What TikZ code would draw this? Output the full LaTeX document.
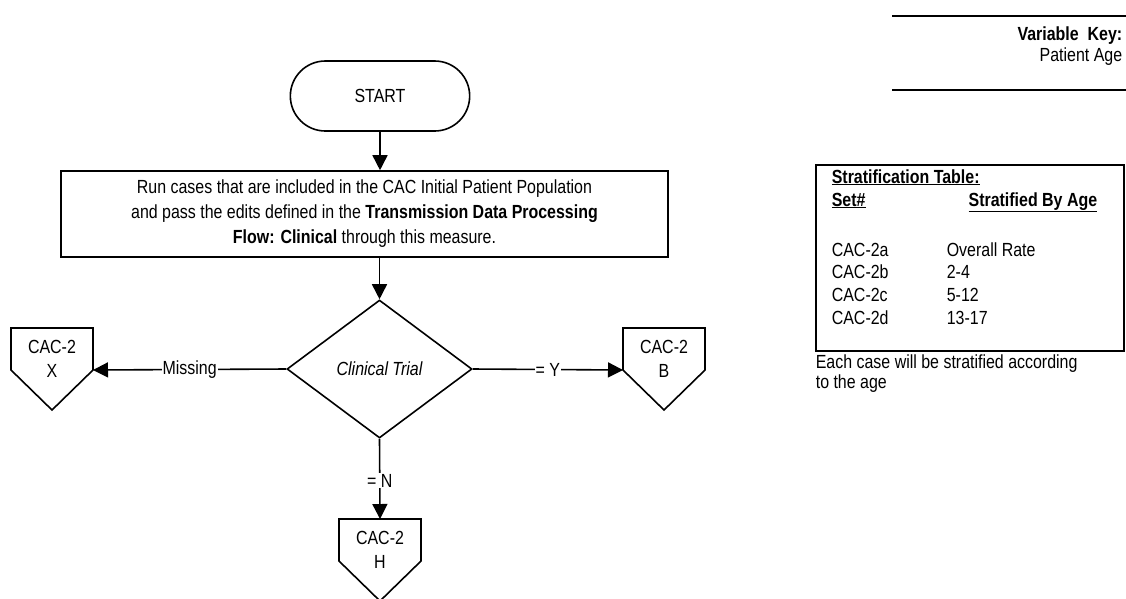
\documentclass[tikz,border=0pt]{standalone}
\usepackage{fontspec}
\setmainfont{Liberation Sans}[FakeStretch=0.84]
\usetikzlibrary{arrows.meta,shapes.misc,shapes.geometric}
\begin{document}
\begin{tikzpicture}[x=1pt,y=-1pt,line width=1.6pt,
  every node/.style={font=\fontsize{19}{24}\selectfont},
  arr/.style={-{Triangle[length=15pt,width=15pt]}},
  shp/.style={draw,line join=miter},
  lbl/.style={fill=white,inner sep=1pt},
  cell/.style={anchor=base west,inner sep=0pt}]
\useasboundingbox (0,0) rectangle (1126,598);
% START
\node[draw,rounded rectangle,minimum width=186pt,minimum height=70pt] (start) at (380,96) {START};
% process box
\node[draw,rectangle,minimum width=607pt,minimum height=86pt,align=center,inner sep=0pt,font=\fontsize{19}{25}\selectfont] (box) at (364.5,214)
 {Run cases that are included in the CAC Initial Patient Population\\
  and pass the edits defined in the \textbf{Transmission Data Processing}\\
  \textbf{Flow: Clinical} through this measure.};
% diamond
\node[draw,diamond,minimum width=185pt,minimum height=138pt,inner sep=0pt] (d) at (379.5,369) {\itshape Clinical Trial};
% pentagons
\draw[shp] (11,328) -- (93,328) -- (93,370) -- (52,410) -- (11,370) -- cycle;
\node[align=center,inner sep=0pt] (px) at (52,359) {CAC-2\\X};
\coordinate (pxr) at (93,370);
\draw[shp] (623,328) -- (705,328) -- (705,370) -- (664,410) -- (623,370) -- cycle;
\node[align=center,inner sep=0pt] (pb) at (664,359) {CAC-2\\B};
\coordinate (pbl) at (623,370);
\draw[shp] (339,519) -- (421,519) -- (421,561) -- (380,601) -- (339,561) -- cycle;
\node[align=center,inner sep=0pt] (ph) at (380,550) {CAC-2\\H};
\coordinate (pht) at (380,519);
% connectors
\draw[arr] (start.south) -- (start.south |- box.north);
\draw[arr] (box.south -| d.north) -- (d.north);
\draw[arr] (d.west) -- node[lbl] {Missing} (pxr);
\draw[arr] (d.east) -- node[lbl] {= Y} (pbl);
\draw[arr] (d.south) -- node[lbl,pos=0.52] {= N} (pht);
% variable key
\coordinate (vk1) at (892,16);
\coordinate (vk2) at (1126,16);
\coordinate (vk3) at (892,90);
\coordinate (vk4) at (1126,90);
\draw (vk1) -- (vk2);
\draw (vk3) -- (vk4);
\node[anchor=east,align=right,inner sep=0pt,font=\fontsize{19}{21}\selectfont] (vk) at (1123,46) {\textbf{Variable\ \ Key:}\\Patient Age};
% stratification table
\node[draw,anchor=north west,minimum width=308pt,minimum height=186pt] (tb) at (815,164) {};
\node[cell] (t1) at (831,183) {\textbf{\underline{Stratification Table:}}};
\node[cell] (t2) at (831,206) {\textbf{\underline{Set\#}}};
\node[anchor=base east,inner sep=0pt] (t3) at (1098,206) {\textbf{\underline{Stratified By Age}}};
\node[cell] (r1a) at (831,256) {CAC-2a};
\node[cell] (r1b) at (946,256) {Overall Rate};
\node[cell] (r2a) at (831,278) {CAC-2b};
\node[cell] (r2b) at (946,278) {2-4};
\node[cell] (r3a) at (831,301) {CAC-2c};
\node[cell] (r3b) at (946,301) {5-12};
\node[cell] (r4a) at (831,324) {CAC-2d};
\node[cell] (r4b) at (946,324) {13-17};
\node[anchor=north west,align=left,inner sep=0pt,font=\fontsize{19}{20}\selectfont] (note) at (815,354) {Each case will be stratified according\\to the age};
\end{tikzpicture}
\end{document}
